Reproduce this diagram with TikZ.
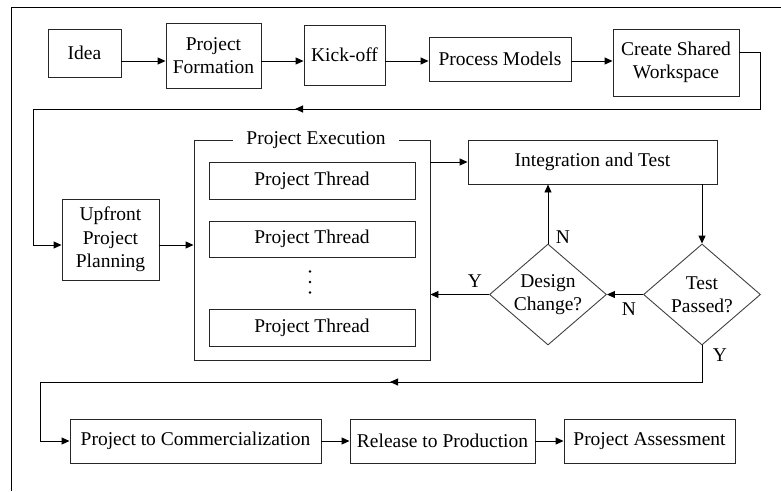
\documentclass[tikz,border=0pt]{standalone}
\usepackage{fontspec}
\setmainfont{Liberation Serif}
\usetikzlibrary{arrows.meta,shapes.geometric}
\newcommand\diagfont{\fontsize{19.5}{23.5}\selectfont}
\begin{document}
\begin{tikzpicture}[x=1pt,y=-1pt,
  every node/.style={font=\diagfont},
  box/.style={draw=black!85, line width=0.9pt, inner sep=0pt, align=center},
  dia/.style={shape=diamond, draw=black!75, line width=0.9pt, aspect=1.16,
              inner sep=0pt, align=center, minimum width=117pt, minimum height=101pt},
  arr/.style={-{Triangle[length=8pt,width=7pt]}, line width=0.9pt},
  ln/.style={line width=0.9pt},
  lbl/.style={inner sep=0pt}]
\useasboundingbox (0,0) rectangle (781,491);

% partial outer frame
\coordinate (frTL) at (11,7);
\coordinate (frTR) at (781,7);
\coordinate (frBL) at (11,491);
\draw[ln] (frTR) -- (frTL) -- (frBL);

% row heights for connectors
\coordinate (rowA) at (0,61);
\coordinate (rowB) at (0,245);
\coordinate (rowC) at (0,441);

% top row
\node[box, minimum width=73pt, minimum height=48pt] (idea) at (84.5,53) {Idea};
\node[box, minimum width=95pt, minimum height=65pt] (form) at (213.5,55.5) {Project\\Formation};
\node[box, minimum width=81pt, minimum height=60pt] (kick) at (344.5,55) {Kick-off};
\node[box, minimum width=142pt, minimum height=44pt] (pm) at (500,59) {Process Models};
\node[box, minimum width=126pt, minimum height=67pt] (csw) at (676,62.5) {Create Shared\\Workspace};

\draw[arr] (idea.east|-rowA) -- (form.west|-rowA);
\draw[arr] (form.east|-rowA) -- (kick.west|-rowA);
\draw[arr] (kick.east|-rowA) -- (pm.west|-rowA);
\draw[arr] (pm.east|-rowA) -- (csw.west|-rowA);

% planning and execution
\node[box, minimum width=97pt, minimum height=81pt] (upf) at (110.5,239.5) {Upfront\\Project\\Planning};
\node[box, minimum width=236pt, minimum height=220pt] (pe) at (312,250) {};
\node[fill=white, inner xsep=13pt, inner ysep=2pt] (pet) at (316,140) {Project Execution};
\node[box, minimum width=206pt, minimum height=37pt] (t1) at (312,180.5) {Project Thread};
\node[box, minimum width=206pt, minimum height=36pt] (t2) at (312,239) {Project Thread};
\node[box, minimum width=206pt, minimum height=37pt] (t3) at (312,327.5) {Project Thread};
\fill (310,271.5) circle (1.4pt) (310,282) circle (1.4pt) (310,292.5) circle (1.4pt);

% loop from workspace back to planning
\coordinate (w1) at (760,52);
\coordinate (w2) at (760,109);
\coordinate (w3) at (295,109);
\coordinate (w4) at (33,109);
\draw[ln] (csw.east|-w1) -- (w1) -- (w2) -- (w3);
\draw[arr] (w2) -- (w3);
\draw[ln] (w3) -- (w4) -- (w4|-rowB);
\draw[arr] (w4|-rowB) -- (upf.west|-rowB);
\draw[arr] (upf.east|-rowB) -- (pe.west|-rowB);

% integration and decisions
\node[box, minimum width=249pt, minimum height=44pt] (it) at (592.5,162) {Integration and Test};
\node[dia] (tp) at (702,294.5) {Test\\Passed?};
\node[dia] (dc) at (548,294.5) {Design\\Change?};

\draw[arr] (pe.east|-it.west) -- (it.west);
\draw[arr] (tp.north|-it.south) -- (tp.north);
\draw[arr] (tp.west) -- (dc.east);
\draw[arr] (dc.north) -- (dc.north|-it.south);
\draw[arr] (dc.west) -- (pe.east|-dc.west);

\node[lbl] (nA) at (563,237) {N};
\node[lbl] (nB) at (629,309) {N};
\node[lbl] (yA) at (475,281) {Y};
\node[lbl] (yB) at (720,355) {Y};

% bottom row
\node[box, minimum width=251pt, minimum height=44pt] (ptc) at (195.5,441) {Project to Commercialization};
\node[box, minimum width=185pt, minimum height=44pt] (rtp) at (442.5,441) {Release to Production};
\node[box, minimum width=171pt, minimum height=44pt] (pa) at (649.5,441) {Project Assessment};

\coordinate (b1) at (702,382);
\coordinate (b2) at (390,382);
\coordinate (b3) at (40,382);
\draw[ln] (tp.south) -- (b1) -- (b2);
\draw[arr] (b1) -- (b2);
\draw[ln] (b2) -- (b3) -- (b3|-rowC);
\draw[arr] (b3|-rowC) -- (ptc.west|-rowC);
\draw[arr] (ptc.east) -- (rtp.west);
\draw[arr] (rtp.east) -- (pa.west);
\end{tikzpicture}
\end{document}
